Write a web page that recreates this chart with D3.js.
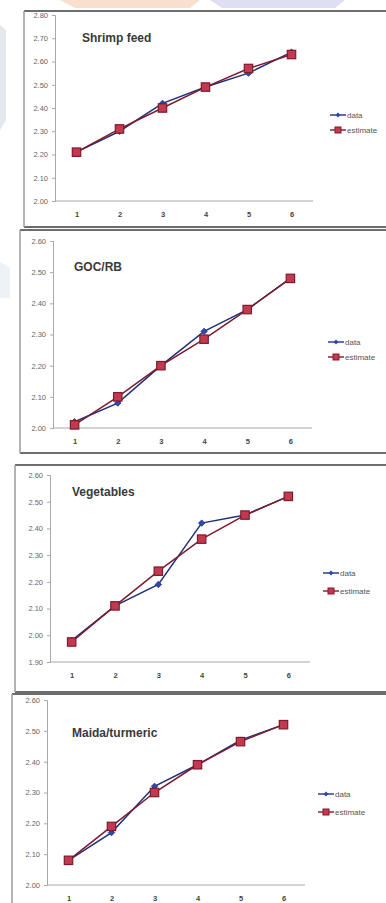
<!DOCTYPE html>
<html>
<head>
<meta charset="utf-8">
<script src="https://cdn.jsdelivr.net/npm/d3@7"></script>
<style>
  html, body { margin: 0; padding: 0; background: #fff; }
  svg { display: block; }
  text { font-family: "Liberation Sans", Arial, sans-serif; }
</style>
</head>
<body>
<svg id="chart" width="386" height="903"></svg>
<script>
// ---- data ----
const categories = [1, 2, 3, 4, 5, 6];
const seriesNames = ["data", "estimate"];
const panelTitles = ["Shrimp feed", "GOC/RB", "Vegetables", "Maida/turmeric"];

const shrimpData     = [2.21, 2.30, 2.42, 2.49, 2.55, 2.64];
const shrimpEstimate = [2.21, 2.31, 2.40, 2.49, 2.57, 2.63];
const shrimpTicks    = [2.00, 2.10, 2.20, 2.30, 2.40, 2.50, 2.60, 2.70, 2.80];

const gocData     = [2.02, 2.08, 2.20, 2.31, 2.38, 2.48];
const gocEstimate = [2.01, 2.10, 2.20, 2.285, 2.38, 2.48];
const gocTicks    = [2.00, 2.10, 2.20, 2.30, 2.40, 2.50, 2.60];

const vegData     = [1.98, 2.11, 2.19, 2.42, 2.45, 2.52];
const vegEstimate = [1.975, 2.11, 2.24, 2.36, 2.45, 2.52];
const vegTicks    = [1.90, 2.00, 2.10, 2.20, 2.30, 2.40, 2.50, 2.60];

const maidaData     = [2.08, 2.17, 2.32, 2.39, 2.47, 2.52];
const maidaEstimate = [2.08, 2.19, 2.30, 2.39, 2.465, 2.52];
const maidaTicks    = [2.00, 2.10, 2.20, 2.30, 2.40, 2.50, 2.60];

// ---- layout (positions only) ----
const layouts = [
  { bx: 24, by: 11, bb: 227, ax: 55, top: 15,  bottom: 201, xEnd: 313, tx: 82, ty: 42,  lx: 330, ly: [115, 130] },
  { bx: 20, by: 230, bb: 453, ax: 53, top: 241, bottom: 428, xEnd: 312, tx: 74, ty: 271, lx: 328, ly: [342, 357] },
  { bx: 15, by: 465, bb: 692, ax: 50, top: 475, bottom: 662, xEnd: 310, tx: 72, ty: 496, lx: 323, ly: [573, 591] },
  { bx: 12, by: 694, bb: 912, ax: 47, top: 700, bottom: 885, xEnd: 305, tx: 72, ty: 737, lx: 318, ly: [794, 812] }
];

const panels = [
  { title: panelTitles[0], series: [shrimpData, shrimpEstimate], ticks: shrimpTicks },
  { title: panelTitles[1], series: [gocData, gocEstimate], ticks: gocTicks },
  { title: panelTitles[2], series: [vegData, vegEstimate], ticks: vegTicks },
  { title: panelTitles[3], series: [maidaData, maidaEstimate], ticks: maidaTicks }
];

const colors = { line: ["#22317a", "#7e1a2c"], fill: ["#2c49b0", "#c23a4f"] };

const svg = d3.select("#chart");

// faint scan background decorations
svg.append("path").attr("d", "M60,0 L200,0 L190,8 L75,8 Z").attr("fill", "#f8dcc8").attr("opacity", 0.9);
svg.append("path").attr("d", "M210,0 L345,0 L335,8 L222,8 Z").attr("fill", "#dcdcf3").attr("opacity", 0.9);
svg.append("path").attr("d", "M0,25 L6,30 L6,120 L0,130 Z").attr("fill", "#e4e8ee");
svg.append("path").attr("d", "M0,262 L10,268 L10,298 L0,298 Z").attr("fill", "#eef1f5");

panels.forEach((p, i) => {
  const L = layouts[i];
  const g = svg.append("g");

  // panel frame
  g.append("line").attr("x1", L.bx).attr("x2", 400).attr("y1", L.by).attr("y2", L.by)
    .attr("stroke", "#6d6d6d").attr("stroke-width", 2);
  g.append("line").attr("x1", L.bx).attr("x2", 400).attr("y1", L.bb).attr("y2", L.bb)
    .attr("stroke", "#6d6d6d").attr("stroke-width", 2);
  g.append("line").attr("x1", L.bx).attr("x2", L.bx).attr("y1", L.by).attr("y2", L.bb)
    .attr("stroke", "#9a9a9a").attr("stroke-width", 1.5);

  const y = d3.scaleLinear()
    .domain([d3.min(p.ticks), d3.max(p.ticks)])
    .range([L.bottom, L.top]);
  const x = d3.scalePoint()
    .domain(categories)
    .range([L.ax, L.xEnd])
    .padding(0.5);

  // y axis
  const yAxis = d3.axisLeft(y).tickValues(p.ticks).tickFormat(d3.format(".2f")).tickSize(3).tickPadding(4);
  const ya = g.append("g").attr("transform", `translate(${L.ax},0)`).call(yAxis);
  ya.select(".domain").attr("stroke", "#a8a8a8");
  ya.selectAll(".tick line").attr("stroke", "#a8a8a8");
  ya.selectAll(".tick text").attr("fill", "#666").style("font-size", "7.5px");

  // x axis
  const xAxis = d3.axisBottom(x).tickSize(0).tickPadding(11);
  const xa = g.append("g").attr("transform", `translate(0,${L.bottom})`).call(xAxis);
  xa.select(".domain").attr("stroke", "#a8a8a8").attr("d", `M${L.ax},0H${L.xEnd}`);
  xa.selectAll(".tick text").attr("fill", "#444").style("font-size", "7.5px").style("font-weight", "bold");

  // title
  g.append("text").attr("x", L.tx).attr("y", L.ty).text(p.title)
    .attr("fill", "#3a3a3a").style("font-size", "12px").style("font-weight", "bold");

  const line = d3.line().x((d, k) => x(categories[k])).y(d => y(d));

  p.series.forEach((vals, s) => {
    g.append("path").datum(vals).attr("d", line).attr("fill", "none")
      .attr("stroke", colors.line[s]).attr("stroke-width", 1.5);
  });
  // markers
  p.series.forEach((vals, s) => {
    const m = g.append("g");
    vals.forEach((v, k) => {
      const cx = x(categories[k]), cy = y(v);
      if (s === 0) {
        m.append("path").attr("d", `M${cx},${cy - 3.2}L${cx + 3.2},${cy}L${cx},${cy + 3.2}L${cx - 3.2},${cy}Z`)
          .attr("fill", colors.fill[0]).attr("stroke", colors.line[0]).attr("stroke-width", 0.8);
      } else {
        m.append("rect").attr("x", cx - 4.2).attr("y", cy - 4.2).attr("width", 8.4).attr("height", 8.4)
          .attr("fill", colors.fill[1]).attr("stroke", colors.line[1]).attr("stroke-width", 1.2);
      }
    });
  });

  // legend
  seriesNames.forEach((name, s) => {
    const ly = L.ly[s];
    g.append("line").attr("x1", L.lx).attr("x2", L.lx + 16).attr("y1", ly).attr("y2", ly)
      .attr("stroke", colors.line[s]).attr("stroke-width", 1.4);
    const cx = L.lx + 8;
    if (s === 0) {
      g.append("path").attr("d", `M${cx},${ly - 2.5}L${cx + 2.5},${ly}L${cx},${ly + 2.5}L${cx - 2.5},${ly}Z`)
        .attr("fill", colors.fill[0]);
    } else {
      g.append("rect").attr("x", cx - 3).attr("y", ly - 3).attr("width", 6).attr("height", 6)
        .attr("fill", colors.fill[1]).attr("stroke", colors.line[1]).attr("stroke-width", 1);
    }
    g.append("text").attr("x", L.lx + 17).attr("y", ly + 3).text(name)
      .attr("fill", "#555").style("font-size", "8px");
  });
});
</script>
</body>
</html>
